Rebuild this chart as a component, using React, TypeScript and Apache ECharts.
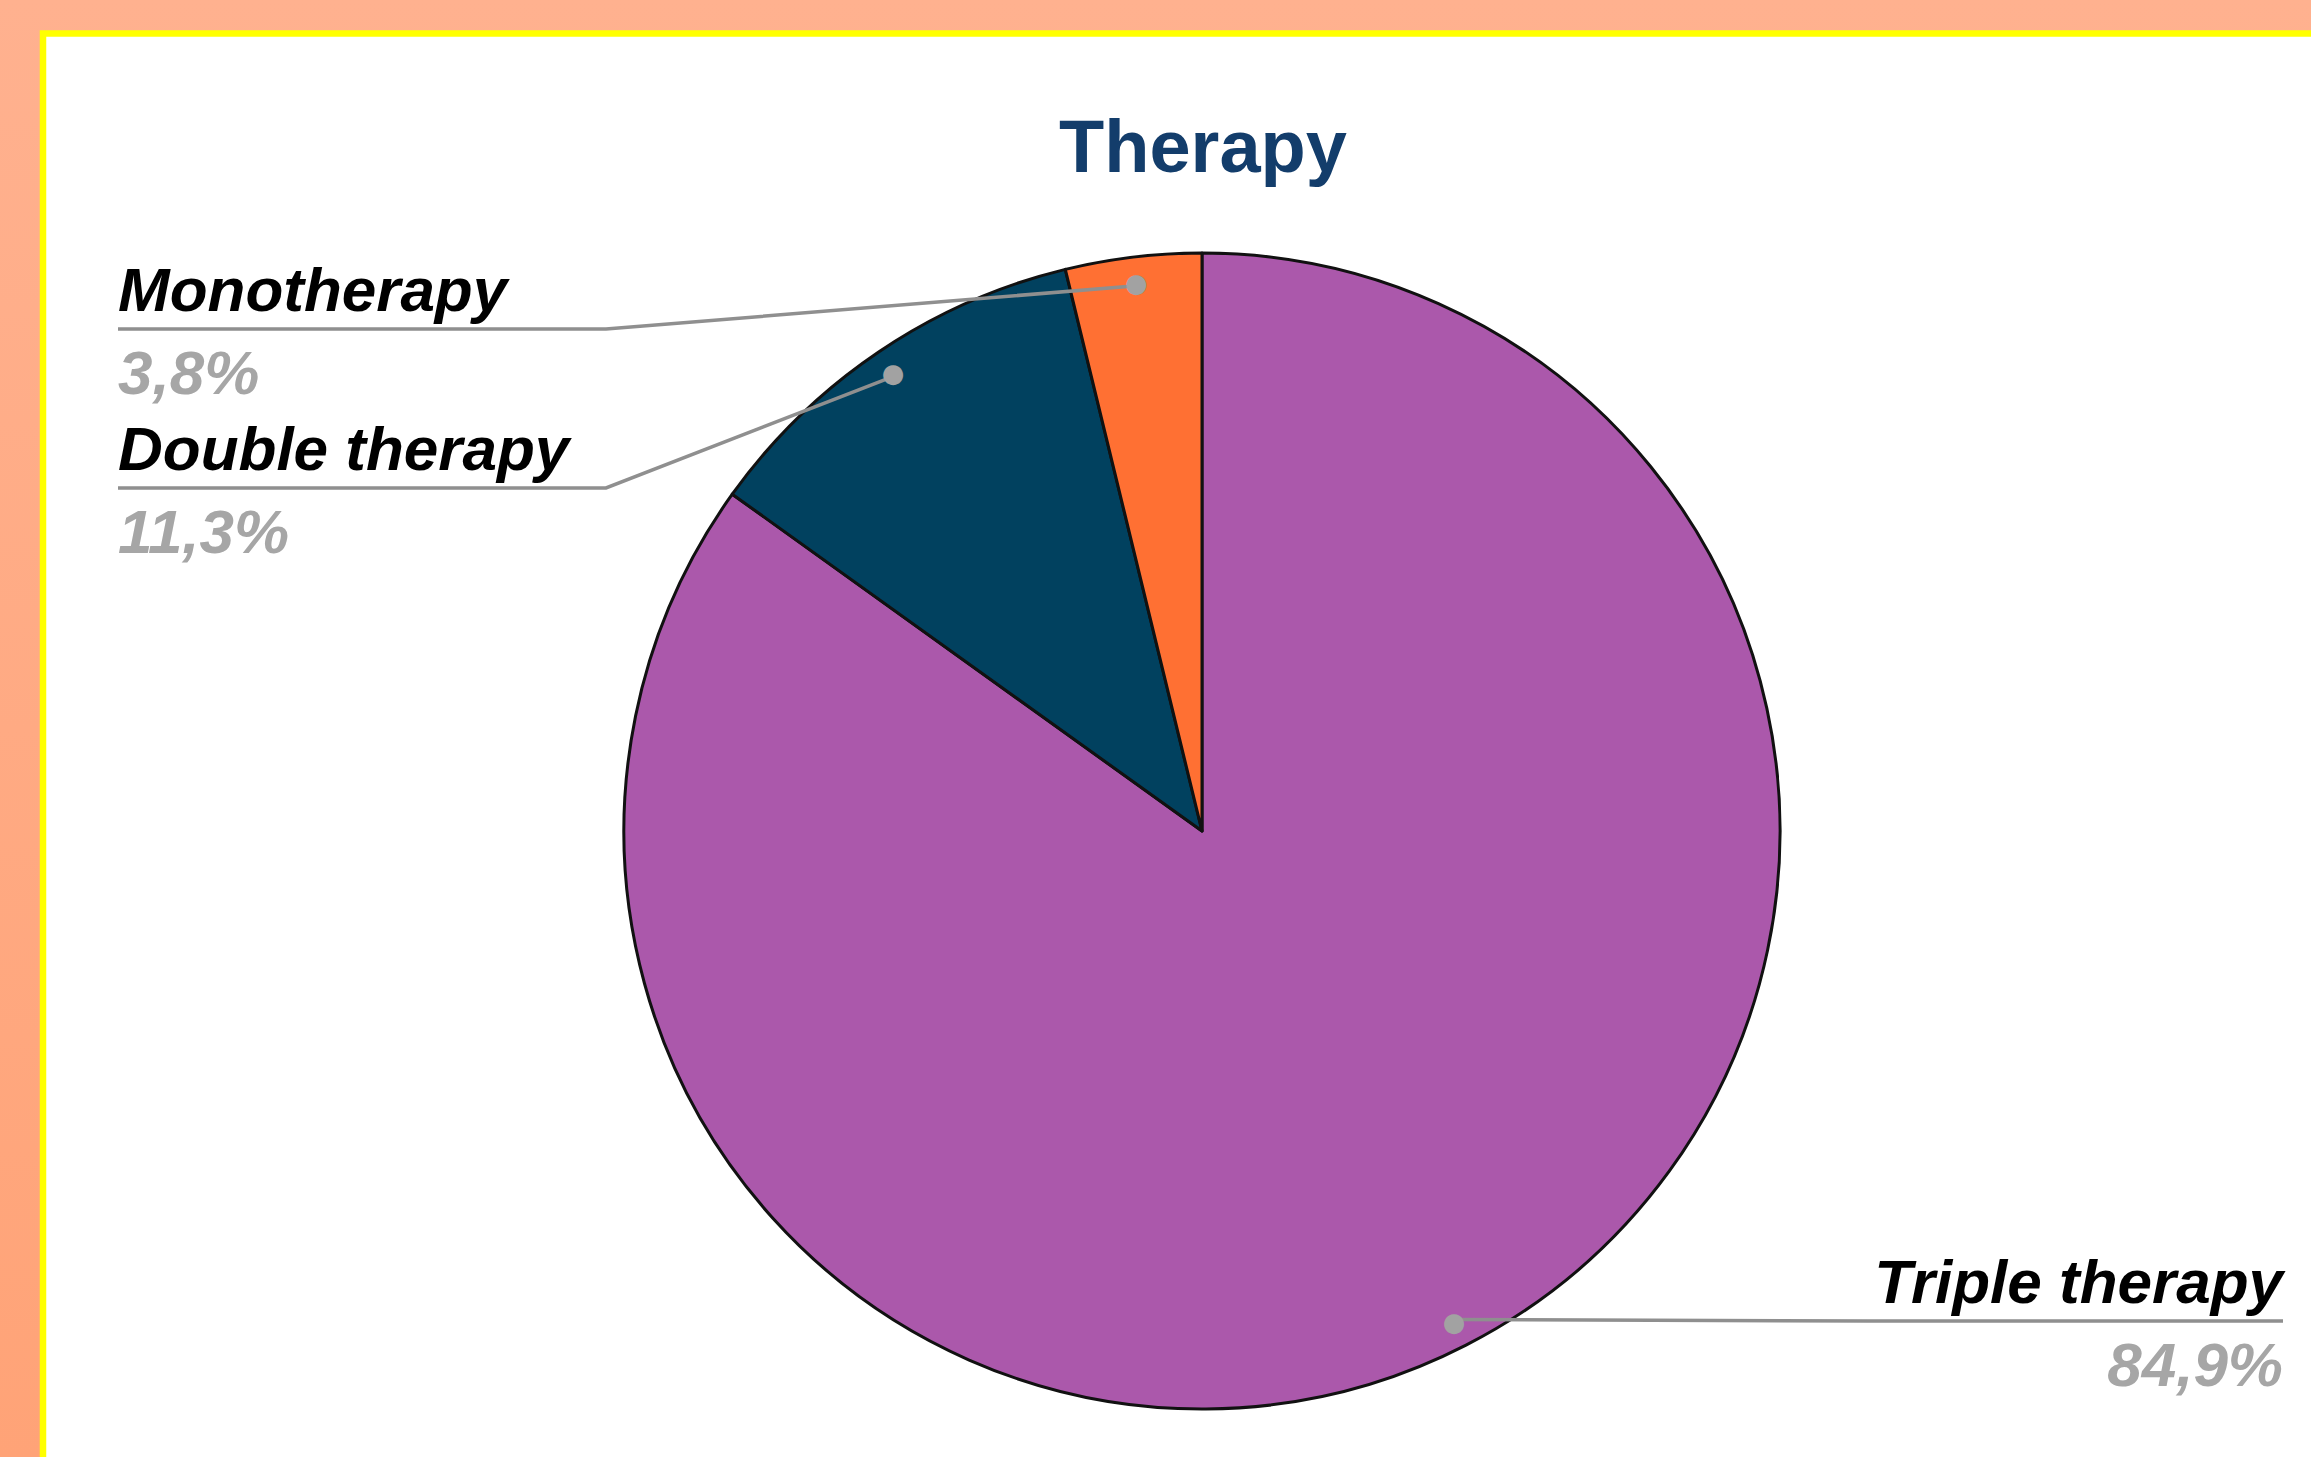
import React, { useEffect, useRef } from "react";
import * as echarts from "echarts";

// ---- Data ----
const CATEGORIES = ["Triple therapy", "Double therapy", "Monotherapy"];
const VALUES = [84.9, 11.3, 3.8];
const TITLE = "Therapy";

// ---- Styles / layout ----
const COLORS = ["#AB58AB", "#01415F", "#FF7033"];
const W = 2311;
const H = 1457;
const CENTER: [number, number] = [1202, 831];
const RADIUS = 578;
const DOT_FRAC = 0.95;
const FONT = "'Liberation Sans', Arial, sans-serif";
const NAME_LH = 80;
const VALUE_LH = 86;
// label anchor layout per category (same order as CATEGORIES)
const LABEL_SIDE = ["right", "left", "left"];
const LABEL_X = [2283, 118, 118];
const LABEL_LINE_Y = [1321, 488, 329];
const LABEL_ELBOW_X = [0, 606, 606];

const fmt = (v: number) => v.toFixed(1).replace(".", ",") + "%";

function dotPoint(idx: number): number[] {
  const total = VALUES.reduce((a, b) => a + b, 0);
  let cum = 0;
  for (let i = 0; i < idx; i++) cum += VALUES[i];
  const mid = (cum + VALUES[idx] / 2) / total;
  const theta = ((90 - 360 * mid) * Math.PI) / 180;
  const r = RADIUS * DOT_FRAC;
  return [CENTER[0] + r * Math.cos(theta), CENTER[1] - r * Math.sin(theta)];
}

export default function App() {
  const ref = useRef<HTMLDivElement>(null);
  useEffect(() => {
    if (!ref.current) return;
    const chart = echarts.init(ref.current, null, { renderer: "svg" });
    const plain = CATEGORIES.map((name, i) => ({ name, value: VALUES[i] }));
    const textStyleBase = {
      fontFamily: FONT,
      fontSize: 62,
      fontWeight: "bold",
      fontStyle: "italic",
    };
    chart.setOption({
      animation: false,
      backgroundColor: "transparent",
      title: {
        text: TITLE,
        left: 1203,
        top: 109,
        padding: 0,
        textAlign: "center",
        textStyle: {
          fontFamily: FONT,
          fontWeight: "bold",
          fontSize: 74,
          color: "#133D6B",
        },
      },
      graphic: [
        {
          type: "rect",
          z: -10,
          silent: true,
          shape: { x: 43, y: 33.5, width: W + 50, height: H + 50 },
          style: { fill: "#ffffff", stroke: "#FFFF00", lineWidth: 6.5 },
        },
      ],
      series: [
        {
          type: "pie",
          z: 2,
          silent: true,
          center: CENTER,
          radius: RADIUS,
          startAngle: 90,
          clockwise: true,
          data: CATEGORIES.map((name, i) => ({
            name,
            value: VALUES[i],
            itemStyle: { color: COLORS[i] },
          })),
          itemStyle: { borderColor: "#111111", borderWidth: 3 },
          label: { show: false },
          labelLine: { show: false },
        },
        {
          type: "pie",
          z: 5,
          silent: true,
          center: CENTER,
          radius: RADIUS,
          startAngle: 90,
          clockwise: true,
          avoidLabelOverlap: false,
          data: plain,
          itemStyle: { color: "rgba(0,0,0,0)", borderWidth: 0 },
          label: {
            show: true,
            position: "outside",
            formatter: (p: any) => `{n|${p.name}}\n{v|${fmt(p.value)}}`,
            rich: {
              n: { ...textStyleBase, color: "#000000", lineHeight: NAME_LH },
              v: { ...textStyleBase, color: "#A6A6A6", lineHeight: VALUE_LH },
            },
          },
          labelLine: {
            show: true,
            lineStyle: { color: "#8F8F8F", width: 3.5 },
          },
          labelLayout: (params: any) => {
            const i = params.dataIndex;
            const dot = dotPoint(i);
            const lineY = LABEL_LINE_Y[i];
            const x = LABEL_X[i];
            const left = LABEL_SIDE[i] === "left";
            const pts = left
              ? [dot, [LABEL_ELBOW_X[i], lineY], [x, lineY]]
              : [dot, [(dot[0] + x) / 2, lineY], [x, lineY]];
            return {
              x,
              y: lineY - NAME_LH,
              align: left ? "left" : "right",
              verticalAlign: "top",
              labelLinePoints: pts,
            };
          },
        },
        {
          type: "pie",
          z: 8,
          silent: true,
          center: CENTER,
          radius: [RADIUS * (2 * DOT_FRAC - 1), RADIUS],
          startAngle: 90,
          clockwise: true,
          data: plain,
          itemStyle: { color: "rgba(0,0,0,0)", borderWidth: 0 },
          label: {
            show: true,
            position: "inside",
            formatter: "●",
            fontFamily: "'DejaVu Sans', sans-serif",
            fontSize: 26,
            color: "#A2A2A2",
          },
          labelLine: { show: false },
        },
      ],
    });
    return () => chart.dispose();
  }, []);
  return (
    <div
      style={{
        position: "fixed",
        left: 0,
        top: 0,
        width: W,
        height: H,
        background: "linear-gradient(#FFB18F, #FFA377)",
      }}
    >
      <div ref={ref} style={{ width: W, height: H }} />
    </div>
  );
}
